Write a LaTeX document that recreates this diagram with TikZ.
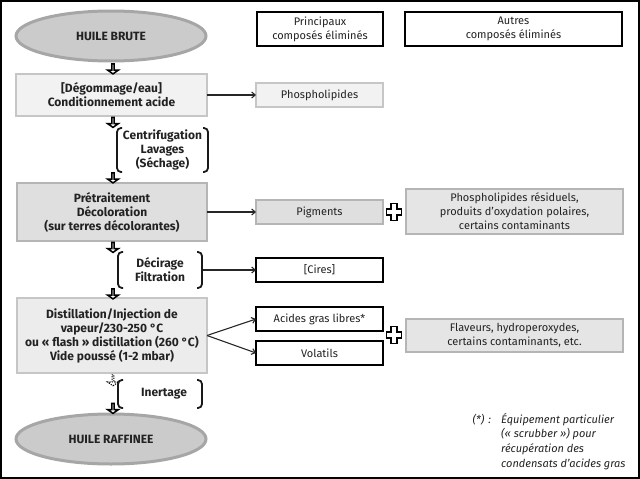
\documentclass[tikz,border=0pt]{standalone}
\usepackage{fontspec}
\setmainfont{Fira Sans}
\usetikzlibrary{shapes.geometric,shapes.arrows,arrows.meta,calc}
\definecolor{ellfill}{HTML}{CBCBCB}
\definecolor{elldraw}{HTML}{A6A6A6}
\definecolor{lightfill}{HTML}{F2F2F2}
\definecolor{lightdraw}{HTML}{C6C6C6}
\definecolor{midfill}{HTML}{DFDFDF}
\definecolor{middraw}{HTML}{B5B5B5}
\definecolor{txt}{HTML}{222222}
\newcommand\drawbrackets[1]{%
  \draw[brk] ([xshift=5pt]#1.north west) -- (#1.north west) -- (#1.south west) -- ([xshift=5pt]#1.south west);
  \draw[brk] ([xshift=-5pt]#1.north east) -- (#1.north east) -- (#1.south east) -- ([xshift=-5pt]#1.south east);}
\newcommand\hollowplus[2]{%
  \draw[plusst] (#1-3.2,#2-8.5) -- (#1+3.2,#2-8.5) -- (#1+3.2,#2-3.2) -- (#1+7.5,#2-3.2) -- (#1+7.5,#2+3.2) -- (#1+3.2,#2+3.2) -- (#1+3.2,#2+8.5) -- (#1-3.2,#2+8.5) -- (#1-3.2,#2+3.2) -- (#1-7.5,#2+3.2) -- (#1-7.5,#2-3.2) -- (#1-3.2,#2-3.2) -- cycle;}
\begin{document}
\begin{tikzpicture}[x=1pt,y=-1pt,
  font=\fontsize{11}{14}\selectfont, text=txt,
  ell/.style={ellipse, fill=ellfill, draw=elldraw, line width=3pt, minimum width=190pt, minimum height=50pt, inner sep=0pt, font=\fontsize{12}{14}\selectfont\bfseries},
  stage/.style={rectangle, align=center, inner sep=0pt, outer sep=0pt, line width=1.3pt, font=\fontsize{12}{14}\selectfont\bfseries},
  lightbox/.style={rectangle, align=center, inner sep=0pt, outer sep=0pt, fill=lightfill, draw=lightdraw, line width=1.3pt},
  greybox/.style={rectangle, align=center, inner sep=0pt, outer sep=0pt, fill=midfill, draw=middraw, line width=1.3pt},
  blackbox/.style={rectangle, align=center, inner sep=0pt, outer sep=0pt, fill=white, draw=black, line width=1.8pt},
  grp/.style={rectangle, align=center, inner sep=0pt, outer sep=0pt, font=\fontsize{12}{14}\selectfont\bfseries},
  brk/.style={draw=black!90, line width=1.8pt, rounded corners=4pt},
  harrow/.style={single arrow, draw=black, fill=white, line width=1.5pt, shape border rotate=270, minimum width=11pt, single arrow head extend=3pt, single arrow tip angle=110, inner sep=0pt, outer sep=0pt},
  conn/.style={draw=black!85, line width=1.1pt, -{Straight Barb[length=3.5pt,width=6pt]}},
  plusst/.style={draw=black, fill=white, line width=1.8pt, line join=miter}
]
\useasboundingbox (0,0) rectangle (640,479);
\draw[line width=1.5pt] (1,1) rectangle (639,478);

% headers
\node[blackbox, minimum width=126pt, minimum height=34pt] (h1) at (320,29) {Principaux\\composés éliminés};
\node[blackbox, minimum width=217pt, minimum height=34pt] (h2) at (513.5,29) {Autres\\composés éliminés};

% main column
\node[ell] (brute) at (111,36) {HUILE BRUTE};
\node[stage, fill=lightfill, draw=lightdraw, minimum width=191pt, minimum height=42pt] (b1) at (111.5,95) {[Dégommage/eau]\\Conditionnement acide};
\node[grp, minimum width=91pt, minimum height=44pt] (g1) at (162.5,150) {Centrifugation\\Lavages\\(Séchage)};
\node[stage, fill=midfill, draw=middraw, minimum width=190pt, minimum height=58pt] (b2) at (112,212) {Prétraitement\\Décoloration\\(sur terres décolorantes)};
\node[grp, minimum width=84pt, minimum height=36pt] (g2) at (160,270) {Décirage\\Filtration};
\node[stage, fill=lightfill!70!midfill, draw=lightdraw, minimum width=190pt, minimum height=75pt] (b3) at (112,335.5) {Distillation/Injection de\\vapeur/230-250 °C\\ou « flash » distillation (260 °C)\\Vide poussé (1-2 mbar)};
\node[grp, minimum width=84pt, minimum height=28pt] (g3) at (160,394) {\hspace*{8pt}Inertage};
\node[ell] (raff) at (111,439) {HUILE RAFFINEE};

\drawbrackets{g1}
\drawbrackets{g2}
\drawbrackets{g3}

% hollow arrows
\node[harrow, minimum height=10pt] (a1) at (113,68.5) {};
\node[harrow, minimum height=10pt] (a2) at (113,122) {};
\node[harrow, minimum height=10pt] (a3) at (113,177.5) {};
\node[harrow, minimum height=10pt] (a4) at (113,247) {};
\node[harrow, minimum height=10pt] (a5) at (113,293.5) {};
\node[harrow, minimum height=11pt, dash pattern=on 1.2pt off 1.2pt, line width=1.1pt] (a6) at (113,380) {};
\node[harrow, minimum height=10pt] (a7) at (113,408) {};

% removed compounds
\node[lightbox, minimum width=127pt, minimum height=24pt] (phos) at (319.5,95) {Phospholipides};
\node[greybox, minimum width=127pt, minimum height=24pt] (pig) at (319.5,212) {Pigments};
\node[greybox, fill=midfill!70!lightfill, minimum width=217pt, minimum height=45pt] (o1) at (514.5,211.5) {Phospholipides résiduels,\\produits d’oxydation polaires,\\certains contaminants};
\node[blackbox, minimum width=127pt, minimum height=24pt] (cires) at (319.5,270) {[Cires]};
\node[blackbox, minimum width=127pt, minimum height=24pt] (agl) at (319.5,319) {Acides gras libres*};
\node[blackbox, minimum width=127pt, minimum height=24pt] (vol) at (319.5,353) {Volatils};
\node[greybox, fill=midfill!70!lightfill, minimum width=217pt, minimum height=33pt] (o2) at (514.5,335.5) {Flaveurs, hydroperoxydes,\\certains contaminants, etc.};

\hollowplus{394}{212}
\hollowplus{394}{335}

% connectors
\draw[conn] (b1.east) -- (phos.west);
\draw[conn] (b2.east) -- (pig.west);
\draw[conn] ([xshift=1pt]g2.east) -- (cires.west);
\draw[conn] (b3.east) -- (agl.west);
\draw[conn] (b3.east) -- (vol.west);

% footnote
\node[anchor=base west, font=\fontsize{11}{14.5}\selectfont\itshape] (fnm) at (469,423.5) {(*)\hspace{4pt}:};
\node[anchor=north west, align=left, inner sep=0pt, font=\fontsize{11}{14.7}\selectfont\itshape] (fn) at (501,413) {Équipement particulier\\(« scrubber ») pour\\récupération des\\condensats d’acides gras};
\end{tikzpicture}
\end{document}
